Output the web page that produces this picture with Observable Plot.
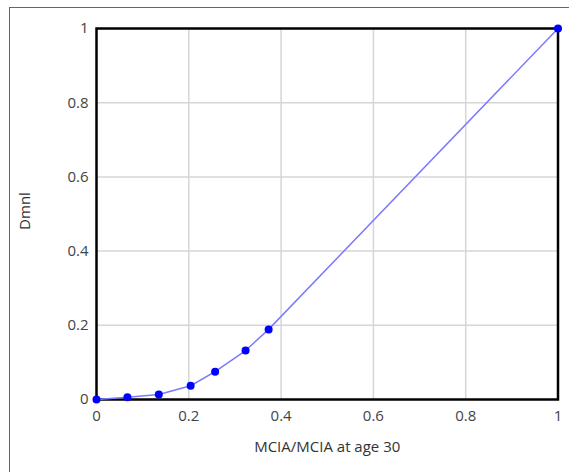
<!DOCTYPE html>
<html>
<head>
<meta charset="utf-8">
<script src="https://cdn.jsdelivr.net/npm/d3@7"></script>
<script src="https://cdn.jsdelivr.net/npm/@observablehq/plot@0.6"></script>
<style>
  html, body { margin: 0; padding: 0; background: #fff; overflow: hidden; }
  #wrap { position: relative; width: 569px; height: 472px; }
  #outer { position: absolute; left: 9px; top: 7px; width: 700px; height: 600px;
           border-left: 1.5px solid #666; border-top: 1.5px solid #666; pointer-events: none; }
  #chart { position: absolute; left: 0; top: 0; }
</style>
</head>
<body>
<div id="wrap"><div id="chart"></div><div id="outer"></div></div>
<script>
const xValues = [0, 0.067, 0.135, 0.204, 0.257, 0.323, 0.373, 1];
const yValues = [0, 0.006, 0.0135, 0.037, 0.075, 0.132, 0.189, 1];
const tickValues = [0, 0.2, 0.4, 0.6, 0.8, 1];
const gridValues = [0.2, 0.4, 0.6, 0.8];
const xLabel = "MCIA/MCIA at age 30";
const yLabel = "Dmnl";

const data = xValues.map((x, i) => ({x, y: yValues[i]}));

const font = "'Open Sans', 'Noto Sans', sans-serif";

const chart = Plot.plot({
  width: 569,
  height: 472,
  marginLeft: 96,
  marginRight: 11.5,
  marginTop: 28,
  marginBottom: 73,
  style: {fontFamily: font, fontSize: "15px", color: "#444", background: "#fff"},
  x: {domain: [0, 1]},
  y: {domain: [0, 1]},
  marks: [
    Plot.ruleX(gridValues, {stroke: "#d6d6d6", strokeWidth: 1.5}),
    Plot.ruleY(gridValues, {stroke: "#d6d6d6", strokeWidth: 1.5}),
    Plot.axisX({ticks: tickValues, tickSize: 0, tickPadding: 11, tickFormat: d => `${d}`, label: null, fill: "#444", fontSize: 15}),
    Plot.axisY({ticks: tickValues, tickSize: 0, tickPadding: 8, tickFormat: d => `${d}`, label: null, fill: "#444", fontSize: 15}),
    Plot.frame({stroke: "#000", strokeWidth: 2.5}),
    Plot.line(data, {x: "x", y: "y", stroke: "#7a7aff", strokeWidth: 1.5}),
    Plot.dot(data, {x: "x", y: "y", r: 4, fill: "#0000ff", stroke: "none"}),
    Plot.text([xLabel], {frameAnchor: "bottom", textAnchor: "middle", lineAnchor: "middle", dy: 48, text: d => d, fill: "#333", fontSize: 15}),
    Plot.text([yLabel], {frameAnchor: "left", textAnchor: "middle", lineAnchor: "middle", dx: -71, dy: -3, rotate: -90, text: d => d, fill: "#333", fontSize: 15})
  ]
});
document.getElementById("chart").appendChild(chart);
</script>
</body>
</html>
